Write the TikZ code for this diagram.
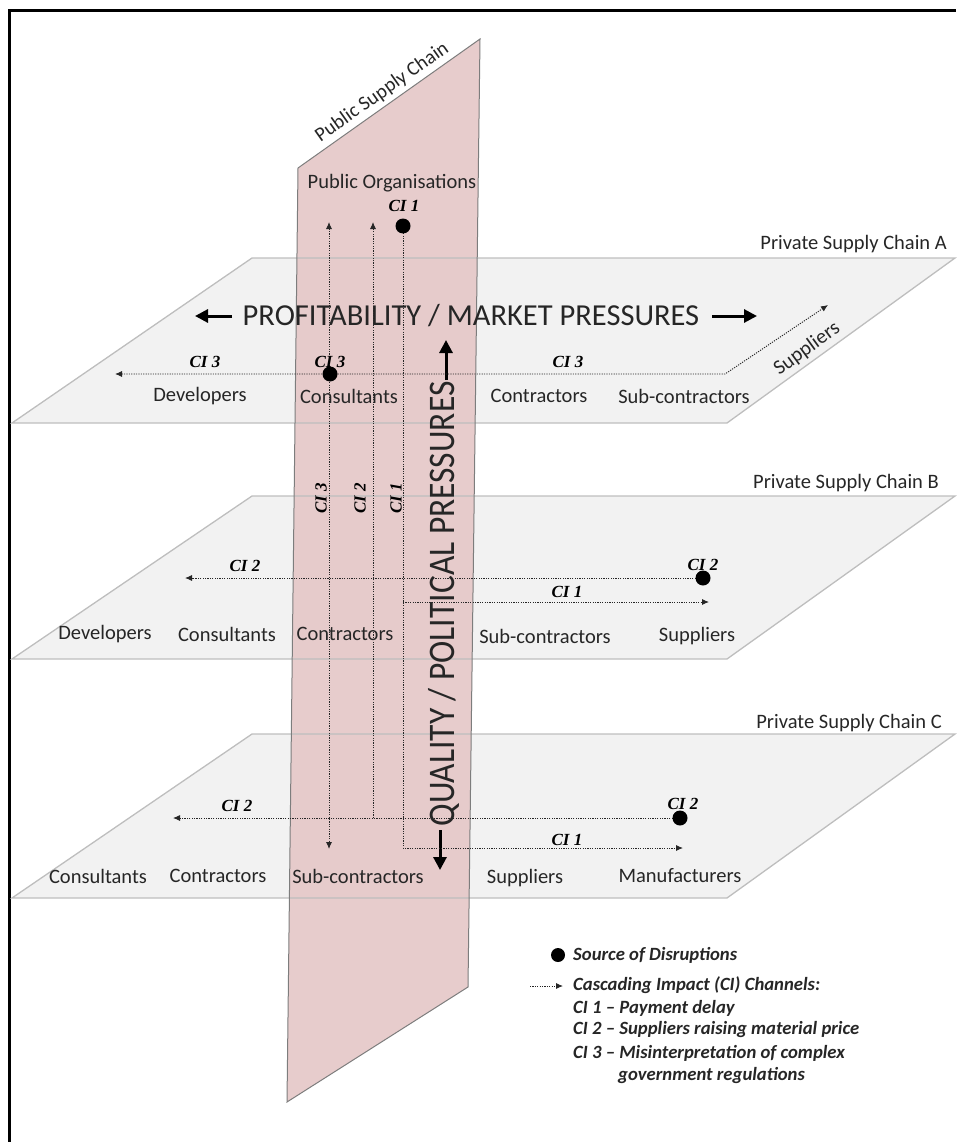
\documentclass[tikz,border=0pt]{standalone}
\usepackage{fontspec}
\setmainfont{Carlito}
\newfontfamily\cifont{Liberation Serif}
\usetikzlibrary{arrows.meta}
\definecolor{planefill}{RGB}{242,242,242}
\definecolor{planeedge}{RGB}{190,190,190}
\definecolor{pinkfill}{RGB}{229,200,200}
\definecolor{pinkedge}{RGB}{125,125,125}
\definecolor{txt}{RGB}{38,38,38}
\tikzset{cit/.tip={Latex[length=7pt,width=6pt]}}
\begin{document}
\begin{tikzpicture}[x=1pt,y=-1pt,
  planeline/.style={draw=planeedge,line width=1.3pt},
  lbl/.style={font=\fontsize{20.5}{24}\selectfont, text=txt, inner sep=0pt},
  cil/.style={font=\fontsize{17}{19}\selectfont\cifont\bfseries\itshape, inner sep=0pt},
  ci/.style={line width=0.9pt, dash pattern=on 1.2pt off 1.2pt, black!85},
  src/.style={circle, fill=black, inner sep=0pt, minimum size=15pt},
  big/.style={line width=3pt, -{Triangle[length=13pt,width=13pt]}},
  lgd/.style={font=\fontsize{18.7}{22}\selectfont\bfseries\itshape, text=txt, inner sep=0pt, anchor=west}
]
\useasboundingbox (0,0) rectangle (956,1142);
% frame
\draw[line width=3pt] (9,1142) -- (9,11) -- (956,11);

% planes
\coordinate (aTL) at (252,258); \coordinate (aTR) at (955,258);
\coordinate (aBR) at (727,423); \coordinate (aBL) at (12,423);
\coordinate (bTL) at (252,496); \coordinate (bTR) at (955,496);
\coordinate (bBR) at (727,659); \coordinate (bBL) at (12,659);
\coordinate (cTL) at (252,734); \coordinate (cTR) at (955,734);
\coordinate (cBR) at (727,898); \coordinate (cBL) at (12,898);
\coordinate (pTL) at (298,168); \coordinate (pTR) at (480,39);
\coordinate (pBR) at (468,987); \coordinate (pBL) at (287,1102);

\fill[planefill] (aTL) -- (aTR) -- (aBR) -- (aBL) -- cycle;
\fill[planefill] (bTL) -- (bTR) -- (bBR) -- (bBL) -- cycle;
\fill[planefill] (cTL) -- (cTR) -- (cBR) -- (cBL) -- cycle;
\fill[pinkfill, fill opacity=0.92] (pTL) -- (pTR) -- (pBR) -- (pBL) -- cycle;
\draw[planeline] (aTL) -- (aTR) -- (aBR) -- (aBL) -- cycle;
\draw[planeline] (bTL) -- (bTR) -- (bBR) -- (bBL) -- cycle;
\draw[planeline] (cTL) -- (cTR) -- (cBR) -- (cBL) -- cycle;
\draw[pinkedge, line width=1pt] (pTL) -- (pTR) -- (pBR) -- (pBL) -- cycle;

% titles
\node[lbl, font=\fontsize{20}{23}\selectfont, rotate=35.3, anchor=south, inner sep=5pt] (pubT) at (390,103.5) {Public Supply Chain};
\node[lbl] (pubO) at (392,183) {Public Organisations};
\node[lbl, anchor=east] (tA) at (947,244) {Private Supply Chain A};
\node[lbl, anchor=east] (tB) at (939,483) {Private Supply Chain B};
\node[lbl, anchor=east] (tC) at (942,723) {Private Supply Chain C};

% plane A labels
\node[lbl] (aDev) at (200,396) {Developers};
\node[lbl] (aCon) at (349,396) {Consultants};
\node[lbl] (aCtr) at (539,396) {Contractors};
\node[lbl] (aSub) at (684,396) {Sub-contractors};
\node[lbl, rotate=36] (aSup) at (807,349) {Suppliers};
% plane B labels
\node[lbl] (bDev) at (105,634) {Developers};
\node[lbl] (bCon) at (227,634) {Consultants};
\node[lbl] (bCtr) at (345,634) {Contractors};
\node[lbl] (bSub) at (545,636) {Sub-contractors};
\node[lbl] (bSup) at (697,636) {Suppliers};
% plane C labels
\node[lbl] (cCon) at (98,876) {Consultants};
\node[lbl] (cCtr) at (218,876) {Contractors};
\node[lbl] (cSub) at (358,876) {Sub-contractors};
\node[lbl] (cSup) at (525,878) {Suppliers};
\node[lbl] (cMan) at (680,876) {Manufacturers};

% pressures
\node[lbl, font=\fontsize{30.5}{34}\selectfont] (prof) at (471,316) {PROFITABILITY / MARKET PRESSURES};
\coordinate (hLs) at (232,316); \coordinate (hLt) at (195,316);
\coordinate (hRs) at (712,316); \coordinate (hRt) at (757,316);
\draw[big] (hLs) -- (hLt);
\draw[big] (hRs) -- (hRt);
\node[lbl, font=\fontsize{33.5}{36}\selectfont, rotate=90] (qual) at (444,604) {\scalebox{1}[1.12]{QUALITY / POLITICAL PRESSURES}};
\coordinate (vUs) at (446,380); \coordinate (vUt) at (446,340);
\coordinate (vDs) at (440,830); \coordinate (vDt) at (440,870);
\draw[big] (vUs) -- (vUt);
\draw[big] (vDs) -- (vDt);

% connector coordinates
\coordinate (a3L) at (115,374); \coordinate (a3E) at (725,374); \coordinate (a3S) at (828,305);
\coordinate (v3T) at (329,222); \coordinate (v3B) at (329,849);
\coordinate (v2T) at (373,222); \coordinate (v2B) at (373,818);
\coordinate (v1B) at (403,848); \coordinate (c1R) at (683,848);
\coordinate (b1S) at (403,602); \coordinate (b1R) at (709,602);
\coordinate (b2L) at (185,578); \coordinate (c2L) at (173,818);
\coordinate (dTpos) at (403,226); \coordinate (dApos) at (330,374);
\coordinate (dBpos) at (703,578); \coordinate (dCpos) at (680,818);

% CI channels
\draw[ci, cit-cit] (a3L) -- (a3E) -- (a3S);
\draw[ci, cit-cit] (v3T) -- (v3B);
\draw[ci, -cit] (v2B) -- (v2T);
\draw[ci, -cit] (dTpos) -- (v1B) -- (c1R);
\draw[ci, -cit] (b1S) -- (b1R);
\draw[ci, -cit] (dBpos) -- (b2L);
\draw[ci, -cit] (dCpos) -- (c2L);

% sources
\node[src] (dT) at (dTpos) {};
\node[src] (dA) at (dApos) {};
\node[src] (dB) at (dBpos) {};
\node[src] (dC) at (dCpos) {};

% CI labels
\node[cil] (lT1) at (404,206) {CI 1};
\node[cil] (lA3a) at (205,362) {CI 3};
\node[cil] (lA3b) at (330,362) {CI 3};
\node[cil] (lA3c) at (568,362) {CI 3};
\node[cil, rotate=90] (lV3) at (321,498) {CI 3};
\node[cil, rotate=90] (lV2) at (360,498) {CI 2};
\node[cil, rotate=90] (lV1) at (396,498) {CI 1};
\node[cil] (lB2a) at (245,566) {CI 2};
\node[cil] (lB2b) at (703,565) {CI 2};
\node[cil] (lB1) at (567,592) {CI 1};
\node[cil] (lC2a) at (237,806) {CI 2};
\node[cil] (lC2b) at (683,804) {CI 2};
\node[cil] (lC1) at (567,840) {CI 1};

% legend
\node[src, minimum size=14pt] (lgDot) at (558,955) {};
\node[lgd] (lg1) at (573,955) {Source of Disruptions};
\coordinate (lgA) at (530,986); \coordinate (lgB) at (563,986);
\draw[ci, -cit] (lgA) -- (lgB);
\node[lgd] (lg2) at (573,985) {Cascading Impact (CI) Channels:};
\node[lgd] (lg3) at (573,1008) {CI 1 -- Payment delay};
\node[lgd] (lg4) at (573,1030) {CI 2 -- Suppliers raising material price};
\node[lgd] (lg5) at (573,1053) {CI 3 -- Misinterpretation of complex};
\node[lgd] (lg6) at (618,1075) {government regulations};
\end{tikzpicture}
\end{document}
